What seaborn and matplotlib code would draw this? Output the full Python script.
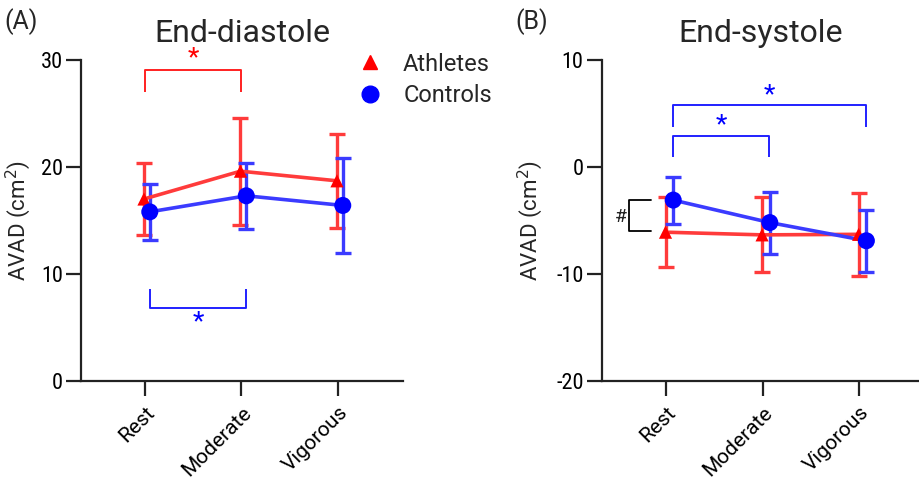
import numpy as np
import pandas as pd
import matplotlib
matplotlib.use("Agg")
import matplotlib.pyplot as plt
from matplotlib import font_manager
import seaborn as sns

# ---- data -------------------------------------------------------------
conditions = ["Rest", "Moderate", "Vigorous"]
groups = ["Athletes", "Controls"]

diastole_athletes_mean = [17.0, 19.6, 18.7]
diastole_athletes_sd = [3.4, 5.0, 4.4]
diastole_controls_mean = [15.8, 17.3, 16.4]
diastole_controls_sd = [2.6, 3.1, 4.45]

systole_athletes_mean = [-6.1, -6.35, -6.3]
systole_athletes_sd = [3.25, 3.5, 3.85]
systole_controls_mean = [-3.1, -5.2, -6.9]
systole_controls_sd = [2.2, 2.9, 2.9]

diastole_ticks = [0, 10, 20, 30]
systole_ticks = [-20, -10, 0, 10]

# ---- styling ------------------------------------------------------------
sns.set_theme(style="ticks")
plt.rcParams["font.family"] = ["Roboto", "DejaVu Sans"]

line_colors = {"Athletes": "#ff3b3b", "Controls": "#3b3bff"}
marker_colors = {"Athletes": "#ff0000", "Controls": "#0000ff"}
markers = {"Athletes": "^", "Controls": "o"}
marker_sizes = {"Athletes": 90, "Controls": 150}
axis_color = "#222222"

# a narrow face for the numeric tick labels, if one is available
_names = {f.name for f in font_manager.fontManager.ttflist}
tick_font = None
for cand in ["Liberation Sans Narrow", "Roboto Condensed", "Open Sans Condensed"]:
    if cand in _names:
        tick_font = dict(family=cand)
        break
if tick_font is None:
    tick_font = dict(family="DejaVu Sans", stretch="condensed")


def make_frame(a_mean, a_sd, c_mean, c_sd, dodge):
    rows = []
    for g, means, sds in [("Athletes", a_mean, a_sd), ("Controls", c_mean, c_sd)]:
        for i, (m, s) in enumerate(zip(means, sds)):
            rows.append({"condition": conditions[i], "group": g,
                         "pos": i + dodge[g], "mean": m, "sd": s})
    return pd.DataFrame(rows)


def draw_panel(ax, df, ylim, yticks, xlim, label_x):
    for g in groups:
        sub = df[df["group"] == g]
        ax.errorbar(sub["pos"], sub["mean"], yerr=sub["sd"], fmt="none",
                    ecolor=line_colors[g], elinewidth=2.4, capsize=5.5,
                    capthick=2.4, zorder=2)
    sns.lineplot(data=df, x="pos", y="mean", hue="group",
                 palette=line_colors, linewidth=2.6, legend=False,
                 sort=False, ax=ax, zorder=3)
    sns.scatterplot(data=df, x="pos", y="mean", hue="group", style="group",
                    markers=markers, palette=marker_colors, size="group",
                    sizes=marker_sizes, edgecolor="none", legend=False,
                    ax=ax, zorder=4)
    ax.set_xlim(*xlim)
    ax.set_ylim(*ylim)
    ax.set_xticks(range(len(conditions)))
    ax.set_xticklabels(conditions, rotation=45, ha="right",
                       rotation_mode="anchor", fontsize=15)
    ax.set_yticks(yticks)
    ax.set_yticklabels([str(t) for t in yticks], fontsize=16, **tick_font)
    ax.set_xlabel("")
    ax.set_ylabel("AVAD (cm$^2$)", fontsize=16)
    ax.yaxis.set_label_coords(label_x, 0.5)
    sns.despine(ax=ax)
    for side in ["left", "bottom"]:
        ax.spines[side].set_linewidth(1.6)
        ax.spines[side].set_color(axis_color)
    ax.tick_params(axis="both", length=11, width=1.6, color=axis_color,
                   labelcolor="black")
    ax.tick_params(axis="x", pad=5)
    ax.tick_params(axis="y", pad=2)


def bracket(ax, x0, x1, y_bar, y_end, color, lw=1.4):
    ax.plot([x0, x0, x1, x1], [y_end, y_bar, y_bar, y_end], color=color,
            lw=lw, solid_capstyle="butt", clip_on=False, zorder=1)


fig = plt.figure(figsize=(9.19, 4.8), dpi=100)
ax1 = fig.add_axes([0.0881, 0.2063, 0.3504, 0.669])
ax2 = fig.add_axes([0.6547, 0.2063, 0.3453, 0.669])

df_d = make_frame(diastole_athletes_mean, diastole_athletes_sd,
                  diastole_controls_mean, diastole_controls_sd,
                  {"Athletes": -0.01, "Controls": 0.05})
df_s = make_frame(systole_athletes_mean, systole_athletes_sd,
                  systole_controls_mean, systole_controls_sd,
                  {"Athletes": -0.005, "Controls": 0.075})

draw_panel(ax1, df_d, (0, 30), diastole_ticks, (-0.663, 2.674), -0.15)
draw_panel(ax2, df_s, (-20, 10), systole_ticks, (-0.666, 2.62), -0.18)

ax1.set_title("End-diastole", fontsize=23, pad=13)
ax2.set_title("End-systole", fontsize=23, pad=13)

# significance markers, end-diastole
star = dict(fontsize=19, ha="center")
bracket(ax1, 0.0, 1.0, 29.05, 27.0, "#ff2020")
ax1.text(0.5, 29.0, "*", color="#ff0000", va="bottom", **star)
bracket(ax1, 0.05, 1.05, 6.8, 8.6, "#2020ff")
ax1.text(0.55, 6.6, "*", color="#0000ff", va="top", **star)

# significance markers, end-systole
bracket(ax2, 0.07, 2.07, 5.75, 3.75, "#2020ff")
ax2.text(1.07, 5.6, "*", color="#0000ff", va="bottom", **star)
bracket(ax2, 0.07, 1.07, 2.93, 0.93, "#2020ff")
ax2.text(0.57, 2.8, "*", color="#0000ff", va="bottom", **star)
ax2.plot([-0.155, -0.38, -0.38, -0.155], [-3.12, -3.12, -5.98, -5.98],
         color="black", lw=1.3, clip_on=False)
ax2.text(-0.47, -4.7, "#", ha="center", va="center", fontsize=14)

# legend
legend_handles = [
    plt.Line2D([], [], ls="none", marker="^", ms=10, color="#ff0000",
               label="Athletes"),
    plt.Line2D([], [], ls="none", marker="o", ms=12, color="#0000ff",
               label="Controls"),
]
fig.legend(handles=legend_handles, loc="upper left",
           bbox_to_anchor=(0.377, 0.91), frameon=False, fontsize=17,
           handletextpad=0.8, labelspacing=0.35, borderaxespad=0,
           handlelength=1.2)

fig.text(0.005, 0.955, "(A)", fontsize=18, va="center", ha="left")
fig.text(0.561, 0.955, "(B)", fontsize=18, va="center", ha="left")

fig.savefig("out.png", dpi=100)
